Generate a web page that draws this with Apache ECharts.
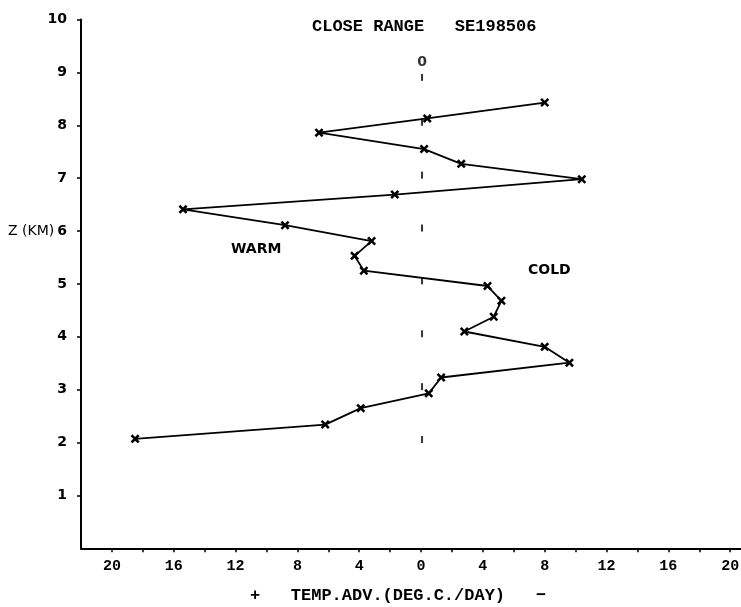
<!DOCTYPE html>
<html><head><meta charset="utf-8">
<script src="https://cdn.jsdelivr.net/npm/echarts@6/dist/echarts.min.js"></script>
<style>html,body{margin:0;padding:0;background:#fff}#c{width:741px;height:607px}</style>
</head><body><div id="c"></div>
<script>
// Height (km) of each plotted point, top to bottom
const heightsKm = [8.43, 8.13, 7.86, 7.55, 7.27, 6.98, 6.69, 6.41, 6.11, 5.81, 5.53, 5.25, 4.96, 4.68, 4.38, 4.10, 3.81, 3.51, 3.23, 2.93, 2.65, 2.34, 2.07];
// Temperature advection (deg C / day), positive = warm (plotted to the left)
const tempAdv = [-8.0, -0.4, 6.6, -0.2, -2.6, -10.4, 1.7, 15.4, 8.8, 3.2, 4.3, 3.7, -4.3, -5.2, -4.7, -2.8, -8.0, -9.6, -1.3, -0.5, 3.9, 6.2, 18.5];
// Heights of the short marks drawn along the zero line
const zeroMarkHeights = [2, 3, 4, 5, 6, 7, 8, 9];
// Tick labels
const xLabelValues = [-20, -16, -12, -8, -4, 0, 4, 8, 12, 16, 20];
const xTickValues = [-20, -18, -16, -14, -12, -10, -8, -6, -4, -2, 0, 2, 4, 6, 8, 10, 12, 14, 16, 18, 20];
const yLabelValues = [1, 2, 3, 4, 5, 6, 7, 8, 9, 10];

const titleText = 'CLOSE RANGE   SE198506';
const xAxisTitle = '+   TEMP.ADV.(DEG.C./DAY)   \u2212';
const yAxisTitle = 'Z (KM)';

const cross = 'path://M0,2 L2,0 L5,3 L8,0 L10,2 L7,5 L10,8 L8,10 L5,7 L2,10 L0,8 L3,5 Z';

const chart = echarts.init(document.getElementById('c'), null, {renderer: 'canvas'});
const lineData = heightsKm.map((z, i) => [tempAdv[i], z]);
const lastIdx = zeroMarkHeights.length - 1;
const zeroData = zeroMarkHeights.map((z, i) => i === lastIdx ? ({
  value: [0, z],
  symbolOffset: [1, 5],
  label: {show: true, formatter: '0', position: 'top', distance: 5,
    fontFamily: 'DejaVu Sans', fontWeight: 'bold', fontSize: 14, color: '#000'}
}) : ({value: [0, z]}));

const mono = 'Liberation Mono';
chart.setOption({
  animation: false,
  backgroundColor: '#fff',
  title: {
    text: titleText, left: 307, top: 13,
    textStyle: {fontFamily: mono, fontWeight: 'bold', fontSize: 17, color: '#000'}
  },
  grid: {left: 81, right: 0, top: 19.5, bottom: 58.7, containLabel: false, outerBoundsMode: 'none'},
  xAxis: {
    type: 'value', inverse: true, min: -20.7, max: 22,
    axisLine: {show: true, onZero: false, lineStyle: {color: '#000', width: 2}},
    axisTick: {show: true, customValues: xTickValues, length: 4, inside: false, lineStyle: {color: '#000', width: 1.5}},
    axisLabel: {show: true, customValues: xLabelValues, margin: 10, formatter: v => String(Math.abs(v)),
      fontFamily: mono, fontWeight: 'bold', fontSize: 15, color: '#000'},
    splitLine: {show: false}
  },
  yAxis: {
    type: 'value', min: 0, max: 10, interval: 1,
    axisLine: {show: true, onZero: false, lineStyle: {color: '#000', width: 2}},
    axisTick: {show: true, customValues: yLabelValues, length: 4, lineStyle: {color: '#000', width: 1.5}},
    axisLabel: {show: true, customValues: yLabelValues, margin: 14,
      fontFamily: 'DejaVu Sans', fontWeight: 'bold', fontSize: 14, color: '#000'},
    splitLine: {show: false}
  },
  graphic: [
    {type: 'text', left: 8, top: 224, style: {text: yAxisTitle, font: '14px "DejaVu Sans"', fill: '#000'}},
    {type: 'text', left: 250, top: 587, style: {text: xAxisTitle, font: 'bold 17px "Liberation Mono"', fill: '#000'}},
    {type: 'text', left: 231, top: 242, style: {text: 'WARM', font: 'bold 14px "DejaVu Sans"', fill: '#000'}},
    {type: 'text', left: 528, top: 263, style: {text: 'COLD', font: 'bold 14px "DejaVu Sans"', fill: '#000'}}
  ],
  series: [
    {
      type: 'line', data: lineData, symbol: cross, symbolSize: 9, showSymbol: true,
      lineStyle: {color: '#000', width: 1.8}, itemStyle: {color: '#000'}, z: 3
    },
    {
      type: 'scatter', data: zeroData, symbol: 'rect', symbolSize: [2, 7], symbolOffset: [1, -3],
      itemStyle: {color: '#000'}, z: 2
    }
  ]
});
</script></body></html>
